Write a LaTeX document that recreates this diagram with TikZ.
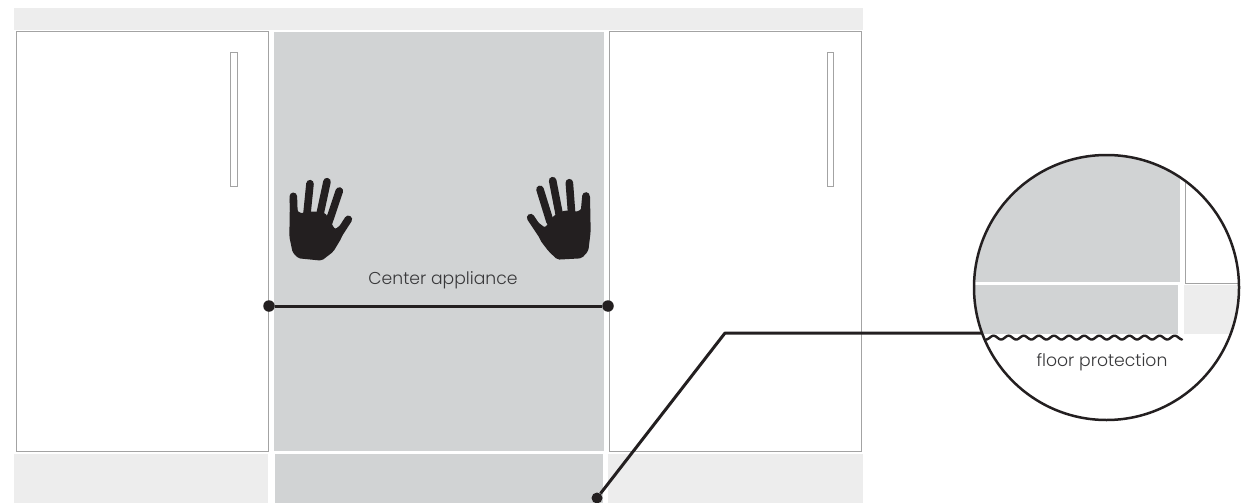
\documentclass[tikz,border=0pt]{standalone}
\usepackage{fontspec}
\setmainfont{Poppins Light}
\definecolor{appl}{HTML}{D1D3D4}
\definecolor{band}{HTML}{EDEDED}
\definecolor{edge}{HTML}{A3A3A3}
\definecolor{ink}{HTML}{231F20}
\definecolor{txt}{HTML}{38383A}
\tikzset{
  cabinet/.style={draw=edge,line width=1pt,fill=white},
  handlebar/.style={draw=edge,line width=0.9pt,fill=white},
  leader/.style={draw=ink,line width=3pt,line join=round},
  pin/.style={circle,fill=ink,inner sep=0pt,minimum size=11.5pt},
  handshape/.style={fill=ink,rounded corners=2pt},
  fingerline/.style={draw=ink,line width=7.6pt,line cap=round},
  lbl/.style={text=txt,font=\fontsize{17.2}{19}\selectfont,inner sep=0pt,anchor=center}
}
\begin{document}
\begin{tikzpicture}[x=1pt,y=-1pt]
\useasboundingbox (0,0) rectangle (1247,503);
% background bands
\fill[band] (14,8) rectangle (863,30);
\fill[band] (14,454) rectangle (268,503);
\fill[band] (608,454) rectangle (863,503);
% appliance
\fill[appl] (274,32) rectangle (604,451);
\fill[appl] (275,454) rectangle (603,503);
% cabinets
\draw[cabinet] (16,32) rectangle (268,451);
\draw[cabinet] (609,32) rectangle (861,451);
\draw[handlebar] (230.5,52) rectangle (237,186);
\draw[handlebar] (827,52) rectangle (833.5,186);
% hands
\begin{scope}[shift={(270,170)},x=0.3333pt,y=-0.3333pt]
\fill[handshape] (60,80) -- (88,130) -- (128,124) -- (165,128) -- (195,178) -- (232,150) -- (214,205) -- (190,245) -- (155,272) -- (85,265) -- (68,248) -- (58,200) -- cycle;
\draw[fingerline] (70,79) -- (73,170);
\draw[fingerline] (120,41) -- (107,170);
\draw[fingerline] (171,35) -- (142,170);
\draw[fingerline] (208,63) -- (172,170);
\draw[fingerline] (235,148) -- (195,210);
\end{scope}
\begin{scope}[shift={(515,165)},x=0.3333pt,y=-0.3333pt]
\fill[handshape] (225,90) -- (192,140) -- (150,136) -- (118,150) -- (90,188) -- (60,165) -- (75,225) -- (100,258) -- (127,284) -- (200,280) -- (220,258) -- (227,200) -- cycle;
\draw[fingerline] (213,93) -- (205,180);
\draw[fingerline] (163,53) -- (171,160);
\draw[fingerline] (113,47) -- (135,160);
\draw[fingerline] (75,73) -- (105,170);
\draw[fingerline] (47,158) -- (85,215);
\end{scope}
% label + measure line
\node[lbl] (center) at (443,280) {Center appliance};
\node[pin] (dotL) at (269,306) {};
\node[pin] (dotR) at (608,306) {};
\draw[leader] (dotL) -- (dotR);
% lens
\begin{scope}
\clip (1106.5,287.5) circle[radius=132.5];
\fill[white] (970,150) rectangle (1245,425);
\fill[appl] (970,150) rectangle (1180,282);
\fill[appl] (970,285) rectangle (1178,334);
\fill[band] (1184,285) rectangle (1245,334);
\draw[edge,line width=1pt] (1185,150) -- (1185,283) -- (1245,283);
\draw[ink,line width=2.4pt,line cap=round] plot[domain=0:196,samples=260] ({986+\x},{337.6+1.9*cos(\x*23.84)});
\end{scope}
\node[draw=ink,line width=2.5pt,circle,minimum size=265pt,inner sep=0pt] (lens) at (1106.5,287.5) {};
\node[lbl] (floor) at (1102,362) {floor protection};
% leader
\node[pin,minimum size=11pt] (dotB) at (597,498) {};
\coordinate (bend) at (725,333);
\coordinate (lensedge) at (982,333);
\draw[leader] (dotB) -- (bend) -- (lensedge);
\end{tikzpicture}
\end{document}
